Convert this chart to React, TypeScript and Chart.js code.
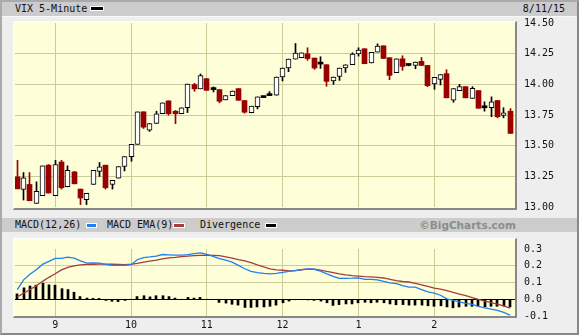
import React, { useEffect, useRef } from "react";
import { Chart, registerables } from "chart.js";

Chart.register(...registerables);

// ---------- DATA ----------
const times = [
  "8:30", "8:35", "8:40", "8:45", "8:50", "8:55",
  "9:00", "9:05", "9:10", "9:15", "9:20", "9:25", "9:30", "9:35", "9:40", "9:45", "9:50", "9:55",
  "10:00", "10:05", "10:10", "10:15", "10:20", "10:25", "10:30", "10:35", "10:40", "10:45", "10:50", "10:55",
  "11:00", "11:05", "11:10", "11:15", "11:20", "11:25", "11:30", "11:35", "11:40", "11:45", "11:50", "11:55",
  "12:00", "12:05", "12:10", "12:15", "12:20", "12:25", "12:30", "12:35", "12:40", "12:45", "12:50", "12:55",
  "13:00", "13:05", "13:10", "13:15", "13:20", "13:25", "13:30", "13:35", "13:40", "13:45", "13:50", "13:55",
  "14:00", "14:05", "14:10", "14:15", "14:20", "14:25", "14:30", "14:35", "14:40", "14:45", "14:50", "14:55",
  "15:00",
];

const opens = [
  13.246, 13.144, 13.184, 13.030, 13.092, 13.341, 13.092, 13.367, 13.165, 13.286,
  13.146, 13.059, 13.184, 13.290, 13.341, 13.184, 13.235, 13.330, 13.411, 13.511,
  13.776, 13.627, 13.681, 13.760, 13.865, 13.781, 13.760, 13.810, 13.998, 13.963,
  14.046, 13.960, 13.957, 13.873, 13.908, 13.965, 13.868, 13.768, 13.817, 13.892,
  13.908, 13.911, 14.060, 14.133, 14.206, 14.217, 14.249, 14.214, 14.165, 14.160,
  14.028, 14.064, 14.133, 14.160, 14.247, 14.290, 14.174, 14.263, 14.314, 14.217,
  14.095, 14.208, 14.154, 14.154, 14.187, 14.154, 14.003, 14.041, 14.087, 13.870,
  13.949, 13.981, 13.886, 13.949, 13.809, 13.809, 13.868, 13.746, 13.781,
];

const highs = [
  13.381, 13.281, 13.281, 13.205, 13.335, 13.346, 13.381, 13.381, 13.335, 13.290,
  13.146, 13.111, 13.298, 13.363, 13.341, 13.217, 13.330, 13.411, 13.511, 13.776,
  13.776, 13.681, 13.781, 13.849, 13.865, 13.787, 13.809, 14.003, 14.008, 14.084,
  14.046, 13.979, 13.957, 13.908, 13.946, 13.965, 13.868, 13.822, 13.898, 13.903,
  13.941, 14.060, 14.133, 14.206, 14.333, 14.257, 14.298, 14.214, 14.225, 14.160,
  14.060, 14.133, 14.160, 14.257, 14.298, 14.290, 14.260, 14.330, 14.314, 14.217,
  14.208, 14.233, 14.160, 14.182, 14.219, 14.154, 14.057, 14.079, 14.119, 13.965,
  14.000, 13.981, 13.981, 13.949, 13.857, 13.898, 13.868, 13.809, 13.803,
];

const lows = [
  13.148, 13.057, 13.051, 13.030, 13.092, 13.114, 13.092, 13.146, 13.165, 13.189,
  13.020, 13.020, 13.184, 13.249, 13.146, 13.146, 13.235, 13.294, 13.373, 13.511,
  13.640, 13.616, 13.681, 13.760, 13.749, 13.679, 13.760, 13.770, 13.943, 13.963,
  13.951, 13.938, 13.849, 13.873, 13.908, 13.870, 13.765, 13.768, 13.800, 13.892,
  13.908, 13.911, 14.028, 14.103, 14.206, 14.217, 14.195, 14.122, 14.130, 13.984,
  14.000, 14.032, 14.097, 14.160, 14.230, 14.168, 14.174, 14.263, 14.211, 14.038,
  14.095, 14.114, 14.150, 14.127, 14.154, 13.981, 13.959, 13.995, 13.890, 13.854,
  13.949, 13.890, 13.886, 13.805, 13.781, 13.736, 13.727, 13.727, 13.600,
];

const closes = [
  13.148, 13.238, 13.051, 13.127, 13.335, 13.114, 13.346, 13.157, 13.298, 13.189,
  13.073, 13.111, 13.298, 13.327, 13.157, 13.217, 13.330, 13.411, 13.511, 13.776,
  13.651, 13.681, 13.760, 13.849, 13.760, 13.760, 13.809, 14.003, 13.963, 14.071,
  13.951, 13.957, 13.862, 13.908, 13.946, 13.870, 13.773, 13.822, 13.898, 13.900,
  13.911, 14.060, 14.133, 14.206, 14.255, 14.257, 14.210, 14.133, 14.165, 14.024,
  14.060, 14.133, 14.160, 14.247, 14.279, 14.168, 14.260, 14.311, 14.211, 14.073,
  14.208, 14.146, 14.154, 14.182, 14.154, 13.989, 14.057, 14.079, 13.890, 13.965,
  13.981, 13.890, 13.968, 13.805, 13.809, 13.857, 13.736, 13.768, 13.600,
];

const macdLine = [
  0.058, 0.116, 0.149, 0.176, 0.208, 0.226, 0.244, 0.244, 0.252, 0.245,
  0.229, 0.216, 0.217, 0.216, 0.208, 0.203, 0.202, 0.202, 0.206, 0.236,
  0.249, 0.253, 0.258, 0.267, 0.265, 0.263, 0.263, 0.267, 0.272, 0.277,
  0.268, 0.256, 0.243, 0.233, 0.222, 0.202, 0.182, 0.166, 0.159, 0.154,
  0.151, 0.154, 0.160, 0.167, 0.171, 0.177, 0.181, 0.179, 0.168, 0.152,
  0.137, 0.125, 0.125, 0.126, 0.128, 0.119, 0.119, 0.116, 0.107, 0.098,
  0.093, 0.082, 0.072, 0.072, 0.058, 0.044, 0.036, 0.024, 0.002, -0.007,
  -0.016, -0.024, -0.031, -0.042, -0.052, -0.059, -0.067, -0.078, -0.095,
];

const signalLine = [
  0.014, 0.036, 0.058, 0.080, 0.107, 0.131, 0.152, 0.175, 0.190, 0.199,
  0.205, 0.208, 0.209, 0.210, 0.210, 0.209, 0.208, 0.207, 0.209, 0.214,
  0.221, 0.227, 0.233, 0.241, 0.247, 0.250, 0.254, 0.257, 0.260, 0.262,
  0.263, 0.262, 0.260, 0.253, 0.246, 0.237, 0.229, 0.218, 0.205, 0.193,
  0.182, 0.175, 0.173, 0.169, 0.171, 0.176, 0.180, 0.179, 0.174, 0.166,
  0.159, 0.151, 0.145, 0.141, 0.138, 0.135, 0.133, 0.130, 0.127, 0.119,
  0.111, 0.106, 0.103, 0.095, 0.086, 0.077, 0.066, 0.061, 0.052, 0.041,
  0.031, 0.021, 0.010, -0.001, -0.011, -0.020, -0.029, -0.039, -0.053,
];

const divergence = [
  0.032, 0.068, 0.079, 0.084, 0.096, 0.086, 0.084, 0.063, 0.058, 0.042,
  0.016, 0.007, 0.005, 0.005, -0.007, -0.012, -0.014, -0.007, 0.000, 0.016,
  0.021, 0.014, 0.021, 0.021, 0.016, 0.007, 0.000, 0.011, 0.007, 0.011,
  0.000, 0.000, -0.019, -0.023, -0.030, -0.035, -0.049, -0.049, -0.046, -0.046,
  -0.042, -0.035, -0.021, -0.011, -0.003, -0.002, -0.004, -0.007, -0.011, -0.021,
  -0.037, -0.032, -0.028, -0.028, -0.021, -0.018, -0.021, -0.018, -0.021, -0.028,
  -0.033, -0.032, -0.035, -0.035, -0.035, -0.039, -0.042, -0.039, -0.046, -0.051,
  -0.046, -0.042, -0.042, -0.042, -0.046, -0.042, -0.042, -0.042, -0.046,
];

const hourTicks = [9, 10, 11, 12, 13, 14];
const hourLabels = ["9", "10", "11", "12", "1", "2"];

// ---------- STYLE ----------
const MONO = "'DejaVu Sans Mono', 'Liberation Mono', monospace";
const GRID = "#cccc99";
const PLOT_BG = "#fefed8";
const HEADER_BG = "#cccccc";
const PANEL_BG = "#eeeeee";
const RED = "#990000";
const BLUE = "#1f80f2";
const BROWN = "#a83c3c";
const TXT = "#111111";
const X_MIN = 8.4697;
const X_MAX = 15.0657;

const toHours = (t: string) => {
  const [h, m] = t.split(":").map(Number);
  return h + m / 60;
};

const snapPlugin = {
  id: "snapBars",
  afterDatasetsUpdate(chart: any) {
    chart.data.datasets.forEach((ds: any, i: number) => {
      const meta = chart.getDatasetMeta(i);
      if (meta.type !== "bar") return;
      const w = ds.barThickness || 1;
      meta.data.forEach((el: any) => {
        el.x = w % 2 === 1 ? Math.floor(el.x) + 0.5 : Math.round(el.x);
      });
    });
  },
};

const tickFont = { family: MONO, size: 10 };

function xScale(showLabels: boolean, height: number) {
  return {
    type: "linear",
    min: X_MIN,
    max: X_MAX,
    offset: false,
    afterBuildTicks: (s: any) => {
      s.ticks = hourTicks.map((v) => ({ value: v }));
    },
    afterFit: (s: any) => {
      s.height = height;
    },
    grid: { color: GRID, lineWidth: 1, drawTicks: false, offset: false },
    border: { display: false },
    ticks: {
      display: showLabels,
      autoSkip: false,
      maxRotation: 0,
      padding: 3,
      font: tickFont,
      color: TXT,
      callback: (v: any) => {
        const k = hourTicks.indexOf(Number(v));
        return k >= 0 ? hourLabels[k] : "";
      },
    },
  };
}

export default function App() {
  const priceRef = useRef<HTMLCanvasElement>(null);
  const macdRef = useRef<HTMLCanvasElement>(null);

  useEffect(() => {
    const xs = times.map(toHours);
    const upBodies: any[] = [];
    const downBodies: any[] = [];
    const flatBodies: any[] = [];
    const upWicks: any[] = [];
    const downWicks: any[] = [];
    xs.forEach((x, i) => {
      const o = opens[i];
      const c = closes[i];
      const body = { x, y: [o, c] };
      const wick = { x, y: [lows[i], highs[i]] };
      if (Math.abs(c - o) < 0.012) {
        flatBodies.push(body);
        upWicks.push(wick);
      } else if (c > o) {
        upBodies.push(body);
        upWicks.push(wick);
      } else {
        downBodies.push(body);
        downWicks.push(wick);
      }
    });

    const priceChart = new Chart(priceRef.current as HTMLCanvasElement, {
      type: "bar",
      data: {
        datasets: [
          { label: "wu", data: upWicks, backgroundColor: "#000", barThickness: 1, grouped: false, order: 3 } as any,
          { label: "wd", data: downWicks, backgroundColor: RED, barThickness: 1, grouped: false, order: 3 } as any,
          {
            label: "up", data: upBodies, backgroundColor: "#ffffff", borderColor: "#000", borderWidth: 1,
            borderSkipped: false, barThickness: 5, grouped: false, order: 1,
          } as any,
          {
            label: "down", data: downBodies, backgroundColor: RED, borderWidth: 0,
            barThickness: 5, grouped: false, order: 1,
          } as any,
          {
            label: "flat", data: flatBodies, backgroundColor: "#000", borderWidth: 0,
            barThickness: 5, minBarLength: 2, grouped: false, order: 1,
          } as any,
        ],
      },
      options: {
        animation: false,
        responsive: false,
        maintainAspectRatio: false,
        layout: { padding: { left: 15, top: 23, right: 0, bottom: 0 } },
        plugins: { legend: { display: false }, tooltip: { enabled: false } },
        scales: {
          x: xScale(false, 14) as any,
          y: {
            type: "linear",
            position: "right",
            min: 13,
            max: 14.5,
            afterFit: (s: any) => {
              s.width = 64;
            },
            border: { display: false },
            grid: {
              drawTicks: false,
              lineWidth: 1,
              color: (ctx: any) => {
                const v = ctx.tick ? ctx.tick.value : 0;
                return Math.abs(v - 13) < 1e-6 || Math.abs(v - 14.5) < 1e-6 ? "rgba(0,0,0,0)" : GRID;
              },
            },
            ticks: {
              stepSize: 0.25,
              padding: 9,
              font: tickFont,
              color: TXT,
              callback: (v: any) => Number(v).toFixed(2),
            },
          } as any,
        },
      },
      plugins: [snapPlugin],
    });

    const macdChart = new Chart(macdRef.current as HTMLCanvasElement, {
      type: "bar",
      data: {
        datasets: [
          {
            type: "line", label: "MACD(12,26)", data: xs.map((x, i) => ({ x, y: macdLine[i] })),
            borderColor: BLUE, borderWidth: 1.3, pointRadius: 0, tension: 0, order: 1,
          } as any,
          {
            type: "line", label: "MACD EMA(9)", data: xs.map((x, i) => ({ x, y: signalLine[i] })),
            borderColor: BROWN, borderWidth: 1.3, pointRadius: 0, tension: 0, order: 2,
          } as any,
          {
            type: "bar", label: "Divergence", data: xs.map((x, i) => ({ x, y: divergence[i] })),
            backgroundColor: "#000", barThickness: 2, grouped: false, order: 3,
          } as any,
        ],
      },
      options: {
        animation: false,
        responsive: false,
        maintainAspectRatio: false,
        layout: { padding: { left: 15, top: 6, right: 0, bottom: 0 } },
        plugins: { legend: { display: false }, tooltip: { enabled: false } },
        scales: {
          x: xScale(true, 19) as any,
          y: {
            type: "linear",
            position: "right",
            min: -0.1,
            max: 0.3,
            afterFit: (s: any) => {
              s.width = 64;
            },
            border: { display: false },
            grid: {
              drawTicks: false,
              lineWidth: 1,
              color: (ctx: any) => {
                const v = ctx.tick ? ctx.tick.value : 0;
                if (Math.abs(v) < 1e-6) return "#000000";
                if (Math.abs(v + 0.1) < 1e-6 || Math.abs(v - 0.3) < 1e-6) return "rgba(0,0,0,0)";
                return GRID;
              },
            },
            ticks: {
              stepSize: 0.1,
              padding: 9,
              font: tickFont,
              color: TXT,
              callback: (v: any) => {
                const n = Math.abs(Number(v)) < 1e-9 ? 0 : Number(v);
                return n.toFixed(1);
              },
            },
          } as any,
        },
      },
      plugins: [snapPlugin],
    });

    return () => {
      priceChart.destroy();
      macdChart.destroy();
    };
  }, []);

  const abs = (s: any) => ({ position: "absolute" as const, ...s });
  const text = (s: any) =>
    abs({ fontFamily: MONO, fontSize: 10, color: TXT, whiteSpace: "pre", lineHeight: "14px", height: 14, ...s });
  const swatch = (left: number, top: number, width: number, color: string) =>
    abs({ left, top, width, height: 3, background: color, border: "1px solid #ffffff" });

  return (
    <div style={{ position: "fixed", left: 0, top: 0, width: 579, height: 335, background: PANEL_BG, overflow: "hidden" }}>
      {/* header 1 */}
      <div style={abs({ left: 2, top: 2, width: 575, height: 14, background: HEADER_BG, borderBottom: "1px solid #f8f8f8" })} />
      <div style={text({ left: 15, top: 2 })}>VIX 5-Minute</div>
      <div style={swatch(90, 6, 12, "#000000")} />
      <div style={text({ right: 14, top: 2 })}>8/11/15</div>

      {/* price frame */}
      <div
        style={abs({
          left: 13, top: 21, width: 501, height: 186, background: PLOT_BG,
          borderTop: "1px solid #ffffff", borderLeft: "1px solid #ffffff",
          borderRight: "2px solid #888888", borderBottom: "2px solid #888888",
        })}
      />

      {/* header 2 */}
      <div style={abs({ left: 2, top: 218, width: 575, height: 14, background: HEADER_BG })} />
      <div style={text({ left: 15, top: 218 })}>MACD(12,26)</div>
      <div style={swatch(86, 223, 9, BLUE)} />
      <div style={text({ left: 107, top: 218 })}>MACD EMA(9)</div>
      <div style={swatch(173, 223, 10, BROWN)} />
      <div style={text({ left: 200, top: 218 })}>Divergence</div>
      <div style={swatch(265, 223, 10, "#000000")} />
      <div
        style={abs({
          right: 63, top: 218, height: 14, lineHeight: "14px", fontFamily: "'DejaVu Sans', sans-serif",
          fontWeight: "bold", fontSize: 10.5, color: "#8c8c8c", whiteSpace: "pre",
        })}
      >
        ©BigCharts.com
      </div>

      {/* macd frame */}
      <div
        style={abs({
          left: 13, top: 238, width: 501, height: 77, background: PLOT_BG,
          borderTop: "1px solid #ffffff", borderLeft: "1px solid #ffffff",
          borderRight: "2px solid #888888", borderBottom: "2px solid #888888",
        })}
      />

      <canvas ref={priceRef} width={579} height={222} style={abs({ left: 0, top: 0, width: 579, height: 222 })} />
      <canvas ref={macdRef} width={579} height={101} style={abs({ left: 0, top: 234, width: 579, height: 101 })} />

      {/* outer border */}
      <div
        style={abs({
          left: 0, top: 0, width: 579, height: 335, boxSizing: "border-box", borderStyle: "solid", borderWidth: 2,
          borderColor: "#aaaaaa #888888 #888888 #aaaaaa", pointerEvents: "none",
        })}
      />
    </div>
  );
}
